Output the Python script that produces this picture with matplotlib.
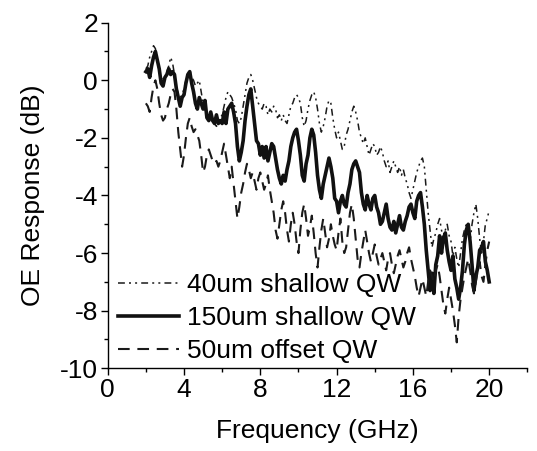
import numpy as np
import matplotlib.pyplot as plt
from matplotlib.ticker import MultipleLocator

plt.rcParams["font.family"] = ["Liberation Sans", "DejaVu Sans"]
plt.rcParams["axes.unicode_minus"] = False

# frequency grid, 2 to 20 GHz in 0.1 GHz steps
freq = np.round(np.arange(2.0, 20.01, 0.1), 1)

# 40um shallow QW (dash-dot-dot)
resp_40 = [
    0.4, 0.5, 0.8, 1.0, 1.2, 1.1, 0.7, 0.3, 0.1, 0.0,
    0.1, 0.3, 0.5, 0.8, 0.6, 0.2, -0.2, -0.5, -0.6, -0.5,
    -0.3, 0.0, 0.2, 0.3, 0.1, 0.0, -0.2, -0.1, 0.0, -0.4,
    -0.8, -1.0, -1.2, -1.3, -1.1, -1.4, -1.5, -1.6, -1.5, -1.3,
    -1.2, -0.9, -0.6, -0.4, -0.5, -0.6, -0.8, -1.0, -1.4, -1.5,
    -1.3, -0.9, -0.5, -0.1, 0.1, 0.2, 0.0, -0.3, -0.6, -0.8,
    -0.9, -1.0, -0.8, -0.9, -1.2, -1.0, -1.1, -0.9, -1.0, -1.3,
    -1.2, -1.4, -1.2, -1.4, -1.5, -1.2, -0.9, -0.8, -0.6, -0.5,
    -0.6, -0.8, -1.3, -1.6, -1.4, -1.0, -0.7, -0.5, -0.4, -0.6,
    -1.0, -1.5, -1.8, -1.6, -1.3, -0.9, -0.7, -0.8, -1.3, -1.7,
    -2.0, -1.8, -2.1, -2.4, -2.3, -1.9, -1.7, -1.4, -1.1, -0.9,
    -1.1, -1.4, -1.8, -2.0, -2.2, -2.0, -2.3, -2.6, -2.4, -2.2,
    -2.3, -2.6, -2.5, -2.3, -2.5, -2.8, -3.0, -2.8, -3.2, -3.0,
    -2.8, -3.0, -3.2, -3.0, -3.3, -3.1, -3.4, -3.6, -3.9, -4.1,
    -3.8, -3.5, -3.2, -3.0, -2.8, -2.7, -3.0, -3.8, -4.6, -5.2,
    -5.8, -5.5, -5.3, -5.0, -4.8, -5.2, -5.6, -5.2, -5.0, -5.4,
    -5.6, -6.1, -5.8, -6.2, -6.5, -6.0, -5.5, -5.2, -5.0, -5.3,
    -5.6, -5.0, -4.6, -4.3, -4.8, -5.5, -6.0, -5.6, -5.0, -4.8,
    -4.5,
]

# 150um shallow QW (thick solid)
resp_150 = [
    0.3, 0.4, 0.1, 0.5, 0.8, 1.0, 0.7, 0.4, -0.1, -0.2,
    0.1, 0.2, 0.4, 0.2, 0.3, 0.2, -0.3, -0.6, -0.9, -0.6,
    -0.5, -0.1, 0.2, 0.3, -0.1, -0.4, -0.8, -1.0, -0.6, -0.8,
    -1.0, -0.7, -1.3, -1.4, -1.1, -1.4, -1.5, -1.2, -1.5, -1.4,
    -1.5, -1.1, -1.5, -1.0, -0.9, -0.8, -1.1, -1.5, -2.3, -2.8,
    -2.5, -2.1, -1.4, -0.9, -0.5, -0.3, -0.9, -1.5, -2.1, -2.2,
    -2.6, -2.3, -2.7, -2.3, -2.8, -2.5, -2.2, -2.3, -2.7, -3.1,
    -3.4, -3.6, -3.3, -3.5, -3.1, -2.8, -2.3, -2.0, -1.8, -1.7,
    -2.1, -2.6, -3.3, -3.5, -2.9, -2.6, -2.0, -1.7, -1.9, -2.5,
    -3.3, -3.8, -4.1, -3.6, -3.3, -3.0, -2.7, -3.0, -3.4, -4.1,
    -4.2, -4.6, -4.2, -4.0, -4.3, -4.4, -3.9, -3.6, -3.1, -2.9,
    -2.8, -3.0, -3.2, -3.9, -4.3, -4.5, -4.0, -4.3, -4.5, -4.1,
    -4.0, -4.4, -4.6, -5.0, -4.9, -4.6, -4.3, -4.8, -5.1, -5.2,
    -4.9, -5.3, -5.0, -4.7, -5.1, -5.2, -4.9, -4.7, -4.4, -4.3,
    -4.6, -4.8, -4.2, -4.0, -3.9, -4.4, -5.0, -5.9, -6.6, -7.3,
    -6.7, -7.4, -6.4, -6.1, -5.4, -6.0, -5.5, -5.3, -5.9, -6.3,
    -6.6, -6.1, -6.9, -7.2, -7.6, -7.2, -6.6, -5.7, -5.2, -5.0,
    -5.6, -6.4, -7.3, -6.8, -6.5, -5.9, -5.8, -5.6, -6.3, -6.6,
    -7.0,
]

# 50um offset QW (dashed)
resp_50 = [
    -0.8, -0.9, -1.1, -0.6, -0.2, 0.0, -0.3, -0.8, -1.2, -1.4,
    -1.3, -1.0, -0.8, -0.5, -0.3, -0.4, -1.0, -1.8, -2.4, -3.0,
    -2.6, -2.0, -1.5, -1.3, -1.6, -1.8, -1.7, -1.9, -2.1, -2.6,
    -3.2, -3.0, -2.6, -2.4, -2.6, -2.8, -2.9, -2.8, -3.0, -2.8,
    -2.5, -2.2, -2.6, -3.0, -3.4, -3.0, -3.6, -4.2, -4.8, -4.4,
    -3.9, -3.6, -3.2, -2.9, -3.1, -3.4, -3.2, -3.5, -3.8, -3.4,
    -3.2, -3.5, -3.8, -3.6, -3.3, -3.8, -4.2, -4.6, -5.2, -5.5,
    -5.0, -4.5, -4.2, -4.6, -5.2, -5.6, -5.0, -4.6, -5.0, -5.6,
    -6.0, -5.2, -4.6, -4.3, -4.8, -5.4, -5.1, -4.7, -5.3, -6.0,
    -6.5, -5.8, -5.2, -4.8, -5.3, -5.8, -5.5, -5.0, -5.4, -5.7,
    -5.9, -5.3, -4.8, -5.6, -6.0, -5.8, -5.2, -4.6, -4.3, -4.8,
    -5.5, -6.2, -6.5, -6.0, -5.6, -5.2, -5.6, -6.0, -6.3, -6.0,
    -5.7, -6.1, -6.4, -6.2, -6.0, -6.3, -6.6, -6.2, -6.0, -6.4,
    -6.7, -6.4, -6.1, -5.9, -6.2, -6.5, -6.3, -6.0, -5.8, -6.2,
    -6.5, -6.8, -7.2, -7.5, -7.2, -6.9, -7.2, -7.5, -7.0, -6.6,
    -6.8, -7.0, -6.6, -6.4, -6.8, -7.3, -7.8, -8.1, -7.6, -7.2,
    -7.6, -8.0, -8.5, -9.1, -8.2, -7.6, -7.2, -6.8, -6.5, -6.2,
    -6.6, -7.1, -7.4, -7.0, -6.6, -6.3, -6.8, -7.0, -6.4, -5.9,
    -5.6,
]

labels = ["40um shallow QW", "150um shallow QW", "50um offset QW"]

fig = plt.figure(figsize=(5.37, 4.51), dpi=100)
ax = fig.add_axes([0.2006, 0.1834, 0.7814, 0.7663])

ax.plot(freq, resp_40, color="#1a1a1a", lw=1.1, dashes=(4.5, 2.7, 1.3, 2.7, 1.3, 2.7), label=labels[0])
ax.plot(freq, resp_150, color="#111111", lw=2.6, label=labels[1])
ax.plot(freq, resp_50, color="#1a1a1a", lw=1.5, dashes=(5.6, 3.7), label=labels[2])

ax.set_xlim(0, 22)
ax.set_ylim(-10, 2)
ax.xaxis.set_major_locator(MultipleLocator(4))
ax.xaxis.set_minor_locator(MultipleLocator(2))
ax.yaxis.set_major_locator(MultipleLocator(2))
ax.yaxis.set_minor_locator(MultipleLocator(1))
ax.spines[["top", "right"]].set_visible(False)
for side in ["left", "bottom"]:
    ax.spines[side].set_linewidth(1.0)
ax.tick_params(which="major", direction="out", length=5, width=1.0, labelsize=19, pad=2)
ax.tick_params(which="minor", direction="out", length=3, width=1.0)

ax.set_xlabel("Frequency (GHz)", fontsize=19, labelpad=12)
ax.set_ylabel("OE Response (dB)", fontsize=19, labelpad=11)

ax.legend(loc="center left", bbox_to_anchor=(0.0245, 0.1455), frameon=False,
          fontsize=19, handlelength=2.3, handletextpad=0.3, labelspacing=0.35,
          borderpad=0.0, borderaxespad=0.0)

fig.savefig("out.png", dpi=100)
